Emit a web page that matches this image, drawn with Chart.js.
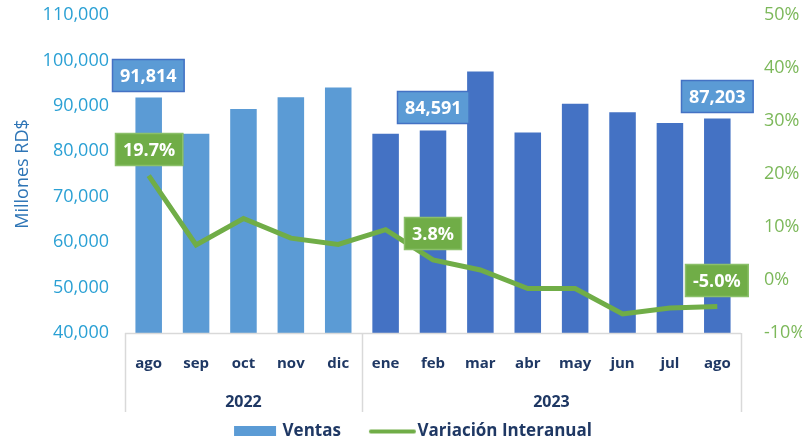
<!DOCTYPE html>
<html>
<head>
<meta charset="utf-8">
<script src="https://cdn.jsdelivr.net/npm/chart.js@4.4.1/dist/chart.umd.min.js"></script>
<style>
  html, body { margin: 0; padding: 0; background: #fff; }
  #wrap { width: 802px; height: 436px; }
</style>
</head>
<body>
<div id="wrap"><canvas id="grafico"></canvas></div>
<script>
// ---- datos ----
const meses     = ['ago', 'sep', 'oct', 'nov', 'dic', 'ene', 'feb', 'mar', 'abr', 'may', 'jun', 'jul', 'ago'];
const anios     = ['2022', '2023'];
const anioDeMes = [0, 0, 0, 0, 0, 1, 1, 1, 1, 1, 1, 1, 1];
const ventas    = [91814, 83850, 89300, 91900, 94050, 83850, 84591, 97550, 84150, 90450, 88600, 86250, 87203];
const variacion = [19.7, 6.6, 11.6, 7.9, 6.7, 9.5, 3.8, 1.9, -1.6, -1.6, -6.4, -5.3, -5.0];
const conEtiqueta = [0, 6, 12];

const FONT = '"Open Sans", "Noto Sans", sans-serif';
const NAVY = '#1F3864';
const colAnio = ['#5B9BD5', '#4472C4'];

const fmtMiles = v => v.toLocaleString('en-US');

/* ----- etiquetas tipo caja sobre barras y linea ----- */
const cajas = {
  id: 'cajas',
  afterDatasetsDraw(chart) {
    const ctx = chart.ctx;
    const barras = chart.getDatasetMeta(0).data;
    const puntos = chart.getDatasetMeta(1).data;
    ctx.save();
    ctx.font = 'bold 18px ' + FONT;
    ctx.textAlign = 'center';
    ctx.textBaseline = 'middle';
    conEtiqueta.forEach(i => {
      caja(ctx, barras[i].x, barras[i].y - 6, fmtMiles(ventas[i]), '#5B9BD5', '#4472C4');
      caja(ctx, puntos[i].x, puntos[i].y - 10, variacion[i].toFixed(1) + '%', '#70AD47', '#8BC06A');
    });
    ctx.restore();

    function caja(ctx, cx, bottom, txt, fill, stroke) {
      const w = ctx.measureText(txt).width + 16, h = 33;
      const x = Math.round(cx - w / 2), y = Math.round(bottom - h);
      ctx.fillStyle = fill;
      ctx.fillRect(x, y, w, h);
      ctx.strokeStyle = stroke;
      ctx.lineWidth = 1.5;
      ctx.strokeRect(x + 0.5, y + 0.5, w - 1, h - 1);
      ctx.fillStyle = '#fff';
      ctx.fillText(txt, x + w / 2, y + h / 2 + 1);
    }
  }
};

/* ----- eje de categorias en dos niveles (mes / anio) + ajuste de leyenda ----- */
const ejeAnios = {
  id: 'ejeAnios',
  beforeUpdate(chart) {
    const lg = chart.legend;
    if (lg && !lg._ajustada) {
      const fitOrig = lg.fit;
      lg.fit = function () { fitOrig.call(this); this.height = 39; };
      lg._ajustada = true;
    }
  },
  afterLayout(chart) {
    const lg = chart.legend;
    if (lg) { lg.left += 11; lg.right += 11; }
  },
  afterDraw(chart) {
    const ctx = chart.ctx, xs = chart.scales.x, area = chart.chartArea;
    const paso = xs.getPixelForTick(1) - xs.getPixelForTick(0);
    const base = area.bottom, fondo = base + 79;
    ctx.save();
    ctx.strokeStyle = '#D9D9D9';
    ctx.lineWidth = 1.5;
    ctx.beginPath();
    ctx.moveTo(area.left, base + 0.5);
    ctx.lineTo(area.right, base + 0.5);
    // separadores
    const bordes = [0];
    for (let i = 1; i < anioDeMes.length; i++) if (anioDeMes[i] !== anioDeMes[i - 1]) bordes.push(i);
    bordes.push(anioDeMes.length);
    bordes.forEach(b => {
      const x = Math.round(xs.getPixelForTick(0) - paso / 2 + b * paso) + 0.5;
      ctx.moveTo(x, base);
      ctx.lineTo(x, fondo);
    });
    ctx.stroke();
    ctx.fillStyle = NAVY;
    ctx.font = 'bold 16px ' + FONT;
    ctx.textAlign = 'center';
    ctx.textBaseline = 'middle';
    for (let k = 0; k < bordes.length - 1; k++) {
      const a = xs.getPixelForTick(bordes[k]), b = xs.getPixelForTick(bordes[k + 1] - 1);
      ctx.fillText(anios[anioDeMes[bordes[k]]], (a + b) / 2, base + 69);
    }
    ctx.restore();
  }
};

function iconoLeyenda(tipo) {
  const c = document.createElement('canvas');
  c.width = 60; c.height = 12;
  const g = c.getContext('2d');
  if (tipo === 'barra') {
    g.fillStyle = '#5B9BD5';
    g.fillRect(11, 0, 42, 11);
  } else {
    g.strokeStyle = '#70AD47';
    g.lineWidth = 4;
    g.lineCap = 'round';
    g.beginPath(); g.moveTo(13, 6); g.lineTo(56, 6); g.stroke();
  }
  return c;
}

new Chart(document.getElementById('grafico'), {
  data: {
    labels: meses,
    datasets: [
      {
        type: 'bar', label: 'Ventas', data: ventas, yAxisID: 'y', order: 2,
        backgroundColor: anioDeMes.map(a => colAnio[a]),
        categoryPercentage: 1, barPercentage: 0.56
      },
      {
        type: 'line', label: 'Variación Interanual', data: variacion, yAxisID: 'y1', order: 1,
        borderColor: '#70AD47', borderWidth: 5, pointRadius: 0, tension: 0, fill: false
      }
    ]
  },
  plugins: [cajas, ejeAnios],
  options: {
    responsive: true,
    maintainAspectRatio: false,
    animation: false,
    layout: { padding: { top: 15, right: 0, left: 0, bottom: 0 } },
    plugins: {
      tooltip: { enabled: false },
      legend: {
        position: 'bottom',
        labels: {
          usePointStyle: true, pointStyleWidth: 42, boxHeight: 12,
          color: NAVY, font: { family: FONT, size: 17, weight: 'bold' }, padding: 26,
          generateLabels: () => [
            { text: 'Ventas', pointStyle: iconoLeyenda('barra'), datasetIndex: 0, fontColor: NAVY },
            { text: 'Variación Interanual', pointStyle: iconoLeyenda('linea'), datasetIndex: 1, fontColor: NAVY }
          ]
        }
      }
    },
    scales: {
      x: {
        grid: { display: false },
        border: { display: false },
        ticks: { color: NAVY, font: { family: FONT, size: 15, weight: 'bold' }, padding: 14 },
        afterFit: s => { s.height = 64; }
      },
      y: {
        position: 'left', min: 40000, max: 110000,
        grid: { display: false }, border: { display: false },
        ticks: { stepSize: 10000, color: '#2AA0D4', font: { family: FONT, size: 18 }, padding: 8,
                 callback: v => fmtMiles(v) },
        title: { display: true, text: 'Millones RD$', color: '#2E75B6', font: { family: FONT, size: 18 },
                 padding: { top: 12, bottom: 0 } },
        afterFit: s => { s.width = 125; s.paddingTop = 0; }
      },
      y1: {
        position: 'right', min: -10, max: 50,
        grid: { display: false }, border: { display: false },
        ticks: { stepSize: 10, color: '#7CB85A', font: { family: FONT, size: 18 }, padding: 15,
                 callback: v => v + '%' },
        afterFit: s => { s.width = 61; s.paddingTop = 0; }
      }
    }
  }
});
</script>
</body>
</html>
